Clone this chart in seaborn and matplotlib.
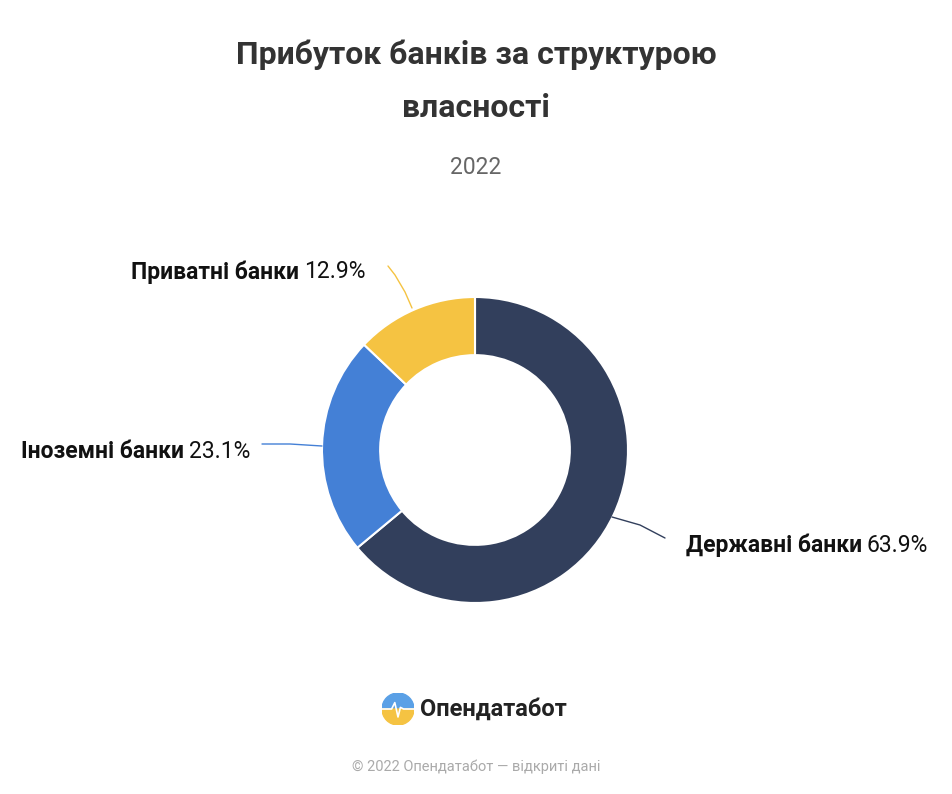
import matplotlib
matplotlib.use("Agg")
import matplotlib.pyplot as plt
import seaborn as sns
import numpy as np
from matplotlib.patches import Circle, Wedge

sns.set_theme(style="white")
plt.rcParams['font.family'] = ['Roboto', 'DejaVu Sans']

categories = ["Державні банки", "Іноземні банки", "Приватні банки"]
values = [63.9, 23.1, 12.9]
colors = ["#323f5c", "#4480d6", "#f5c342"]

W, H = 952, 794
fig = plt.figure(figsize=(W/100, H/100), dpi=100)
fig.patch.set_facecolor("white")

def fx(px): return px / W
def fy(py): return 1 - py / H

cx, cy, R = 475, 450, 153
ax = fig.add_axes([fx(cx - R), fy(cy + R), 2*R/W, 2*R/H])
ax.pie(values, colors=colors, startangle=90, counterclock=False,
       wedgeprops=dict(width=0.38, edgecolor="white", linewidth=1.5))
ax.set_xlim(-1, 1); ax.set_ylim(-1, 1)
ax.axis("off")

lax = fig.add_axes([0, 0, 1, 1]); lax.set_xlim(0, W); lax.set_ylim(H, 0); lax.axis("off")
lax.plot([612, 640, 665], [517, 525, 538], color=colors[0], lw=1)
lax.plot([322, 290, 262], [446, 444, 444], color=colors[1], lw=1)
lax.plot([412, 405, 395, 388], [308, 292, 275, 266], color=colors[2], lw=1)

def label(split, y, bold, reg):
    fig.text(fx(split), fy(y), bold, ha="right", va="center", fontsize=16.5, fontweight="bold", color="#111")
    fig.text(fx(split + 5), fy(y), reg, ha="left", va="center", fontsize=16.5, color="#111")

label(862, 545, categories[0], f"{values[0]}%")
label(184, 451, categories[1], f"{values[1]}%")
label(299, 272, categories[2], f"{values[2]}%")

fig.text(0.5, fy(55), "Прибуток банків за структурою", ha="center", va="center",
         fontsize=23, fontweight="bold", color="#333")
fig.text(0.5, fy(108), "власності", ha="center", va="center",
         fontsize=23, fontweight="bold", color="#333")
fig.text(0.5, fy(167), "2022", ha="center", va="center", fontsize=16.5, color="#666")

lx, ly, lr = 398, 709, 16
logo = fig.add_axes([fx(lx - lr), fy(ly + lr), 2*lr/W, 2*lr/H])
logo.set_xlim(-1, 1); logo.set_ylim(-1, 1); logo.axis("off")
logo.add_patch(Wedge((0, 0), 1, 0, 180, color="#5aa0e6"))
logo.add_patch(Wedge((0, 0), 1, 180, 360, color="#f5c342"))
logo.plot([-1, -0.4, -0.2, 0, 0.15, 0.35, 1], [0, 0, 0.4, -0.5, 0.1, 0, 0], color="white", lw=1.2)
fig.text(fx(420), fy(709), "Опендатабот", ha="left", va="center", fontsize=17, fontweight="bold", color="#222")
fig.text(0.5, fy(767), "© 2022 Опендатабот — відкриті дані", ha="center", va="center", fontsize=10.5, color="#aaa")

fig.savefig("out.png", dpi=100, facecolor="white")
